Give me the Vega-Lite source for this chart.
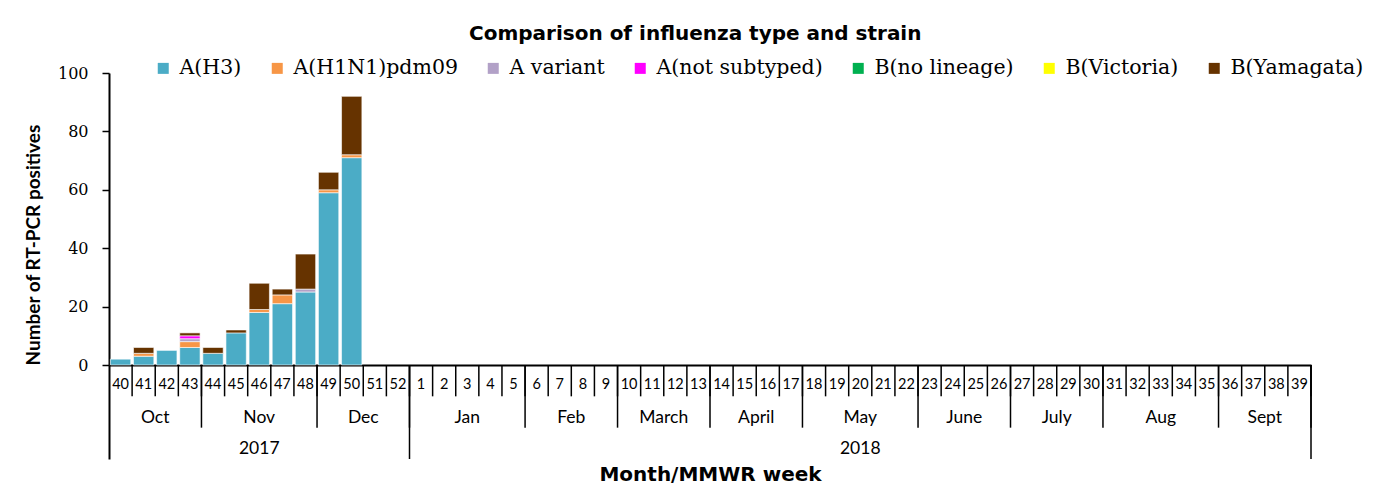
{
  "$schema": "https://vega.github.io/schema/vega-lite/v6.json",
  "padding": {"left": 24, "top": 24, "right": 5, "bottom": 5},
  "background": "white",
  "title": {"text": "Comparison of influenza type and strain", "font": "DejaVu Sans", "fontSize": 20, "fontWeight": "bold", "color": "black", "anchor": "middle", "offset": 14, "dx": 1},
  "spacing": 0,
  "bounds": "flush",
  "datasets": {
    "strains": [
      {"strain": "A(H3)", "rank": 1},
      {"strain": "A(H1N1)pdm09", "rank": 2},
      {"strain": "A variant", "rank": 3},
      {"strain": "A(not subtyped)", "rank": 4},
      {"strain": "B(no lineage)", "rank": 5},
      {"strain": "B(Victoria)", "rank": 6},
      {"strain": "B(Yamagata)", "rank": 7}
    ],
    "cases": [
      {"week": "40", "strain": "A(H3)", "count": 2},
      {"week": "41", "strain": "A(H3)", "count": 3},
      {"week": "41", "strain": "A(H1N1)pdm09", "count": 1},
      {"week": "41", "strain": "B(Yamagata)", "count": 2},
      {"week": "42", "strain": "A(H3)", "count": 5},
      {"week": "43", "strain": "A(H3)", "count": 6},
      {"week": "43", "strain": "A(H1N1)pdm09", "count": 2},
      {"week": "43", "strain": "A variant", "count": 1},
      {"week": "43", "strain": "A(not subtyped)", "count": 1},
      {"week": "43", "strain": "B(Yamagata)", "count": 1},
      {"week": "44", "strain": "A(H3)", "count": 4},
      {"week": "44", "strain": "B(Yamagata)", "count": 2},
      {"week": "45", "strain": "A(H3)", "count": 11},
      {"week": "45", "strain": "B(Yamagata)", "count": 1},
      {"week": "46", "strain": "A(H3)", "count": 18},
      {"week": "46", "strain": "A(H1N1)pdm09", "count": 1},
      {"week": "46", "strain": "B(Yamagata)", "count": 9},
      {"week": "47", "strain": "A(H3)", "count": 21},
      {"week": "47", "strain": "A(H1N1)pdm09", "count": 3},
      {"week": "47", "strain": "B(Yamagata)", "count": 2},
      {"week": "48", "strain": "A(H3)", "count": 25},
      {"week": "48", "strain": "A variant", "count": 1},
      {"week": "48", "strain": "B(Yamagata)", "count": 12},
      {"week": "49", "strain": "A(H3)", "count": 59},
      {"week": "49", "strain": "A(H1N1)pdm09", "count": 1},
      {"week": "49", "strain": "B(Yamagata)", "count": 6},
      {"week": "50", "strain": "A(H3)", "count": 71},
      {"week": "50", "strain": "A(H1N1)pdm09", "count": 1},
      {"week": "50", "strain": "B(Yamagata)", "count": 20}
    ],
    "calendar": [
      {"idx": 1, "week": "40", "month": "Oct", "year": "2017"},
      {"idx": 2, "week": "41", "month": "Oct", "year": "2017"},
      {"idx": 3, "week": "42", "month": "Oct", "year": "2017"},
      {"idx": 4, "week": "43", "month": "Oct", "year": "2017"},
      {"idx": 5, "week": "44", "month": "Nov", "year": "2017"},
      {"idx": 6, "week": "45", "month": "Nov", "year": "2017"},
      {"idx": 7, "week": "46", "month": "Nov", "year": "2017"},
      {"idx": 8, "week": "47", "month": "Nov", "year": "2017"},
      {"idx": 9, "week": "48", "month": "Nov", "year": "2017"},
      {"idx": 10, "week": "49", "month": "Dec", "year": "2017"},
      {"idx": 11, "week": "50", "month": "Dec", "year": "2017"},
      {"idx": 12, "week": "51", "month": "Dec", "year": "2017"},
      {"idx": 13, "week": "52", "month": "Dec", "year": "2017"},
      {"idx": 14, "week": "1", "month": "Jan", "year": "2018"},
      {"idx": 15, "week": "2", "month": "Jan", "year": "2018"},
      {"idx": 16, "week": "3", "month": "Jan", "year": "2018"},
      {"idx": 17, "week": "4", "month": "Jan", "year": "2018"},
      {"idx": 18, "week": "5", "month": "Jan", "year": "2018"},
      {"idx": 19, "week": "6", "month": "Feb", "year": "2018"},
      {"idx": 20, "week": "7", "month": "Feb", "year": "2018"},
      {"idx": 21, "week": "8", "month": "Feb", "year": "2018"},
      {"idx": 22, "week": "9", "month": "Feb", "year": "2018"},
      {"idx": 23, "week": "10", "month": "March", "year": "2018"},
      {"idx": 24, "week": "11", "month": "March", "year": "2018"},
      {"idx": 25, "week": "12", "month": "March", "year": "2018"},
      {"idx": 26, "week": "13", "month": "March", "year": "2018"},
      {"idx": 27, "week": "14", "month": "April", "year": "2018"},
      {"idx": 28, "week": "15", "month": "April", "year": "2018"},
      {"idx": 29, "week": "16", "month": "April", "year": "2018"},
      {"idx": 30, "week": "17", "month": "April", "year": "2018"},
      {"idx": 31, "week": "18", "month": "May", "year": "2018"},
      {"idx": 32, "week": "19", "month": "May", "year": "2018"},
      {"idx": 33, "week": "20", "month": "May", "year": "2018"},
      {"idx": 34, "week": "21", "month": "May", "year": "2018"},
      {"idx": 35, "week": "22", "month": "May", "year": "2018"},
      {"idx": 36, "week": "23", "month": "June", "year": "2018"},
      {"idx": 37, "week": "24", "month": "June", "year": "2018"},
      {"idx": 38, "week": "25", "month": "June", "year": "2018"},
      {"idx": 39, "week": "26", "month": "June", "year": "2018"},
      {"idx": 40, "week": "27", "month": "July", "year": "2018"},
      {"idx": 41, "week": "28", "month": "July", "year": "2018"},
      {"idx": 42, "week": "29", "month": "July", "year": "2018"},
      {"idx": 43, "week": "30", "month": "July", "year": "2018"},
      {"idx": 44, "week": "31", "month": "Aug", "year": "2018"},
      {"idx": 45, "week": "32", "month": "Aug", "year": "2018"},
      {"idx": 46, "week": "33", "month": "Aug", "year": "2018"},
      {"idx": 47, "week": "34", "month": "Aug", "year": "2018"},
      {"idx": 48, "week": "35", "month": "Aug", "year": "2018"},
      {"idx": 49, "week": "36", "month": "Sept", "year": "2018"},
      {"idx": 50, "week": "37", "month": "Sept", "year": "2018"},
      {"idx": 51, "week": "38", "month": "Sept", "year": "2018"},
      {"idx": 52, "week": "39", "month": "Sept", "year": "2018"}
    ]
  },
  "vconcat": [
    {
      "width": 1202,
      "height": 292,
      "data": {"name": "cases"},
      "transform": [
        {"lookup": "strain", "from": {"data": {"name": "strains"}, "key": "strain", "fields": ["rank"]}}
      ],
      "mark": {"type": "bar", "stroke": "white", "strokeWidth": 0.6},
      "encoding": {
        "x": {
          "field": "week", "type": "ordinal",
          "scale": {"domain": ["40","41","42","43","44","45","46","47","48","49","50","51","52","1","2","3","4","5","6","7","8","9","10","11","12","13","14","15","16","17","18","19","20","21","22","23","24","25","26","27","28","29","30","31","32","33","34","35","36","37","38","39"], "paddingInner": 0.12, "paddingOuter": 0.06},
          "axis": {"title": null, "labels": false, "ticks": false, "domain": true, "domainColor": "black", "domainWidth": 2, "grid": false}
        },
        "y": {
          "field": "count", "type": "quantitative",
          "scale": {"domain": [0, 100], "nice": false},
          "axis": {"title": "Number of RT-PCR positives", "titleFont": "Lato", "titleFontSize": 19, "titleFontWeight": "bold", "titleColor": "black", "titlePadding": 14, "titleAnchor": "start", "values": [0, 20, 40, 60, 80, 100], "labelFont": "DejaVu Serif", "labelFontSize": 16, "labelColor": "black", "labelPadding": 14, "tickSize": 7, "tickColor": "black", "tickWidth": 1.5, "domainColor": "black", "domainWidth": 2, "grid": false}
        },
        "order": {"field": "rank", "type": "quantitative", "sort": "ascending"},
        "color": {
          "field": "strain", "type": "nominal",
          "sort": ["A(H3)", "A(H1N1)pdm09", "A variant", "A(not subtyped)", "B(no lineage)", "B(Victoria)", "B(Yamagata)"],
          "scale": {"domain": ["A(H3)", "A(H1N1)pdm09", "A variant", "A(not subtyped)", "B(no lineage)", "B(Victoria)", "B(Yamagata)"], "range": ["#4BACC6", "#F79646", "#B2A1C7", "#FF00FF", "#00B050", "#FFFF00", "#663300"]},
          "legend": {"orient": "none", "legendX": 44, "legendY": -15, "direction": "horizontal", "columns": 7, "title": null, "symbolType": "square", "symbolSize": 121, "symbolStrokeWidth": 0, "labelFont": "DejaVu Serif", "labelFontSize": 20.5, "labelColor": "black", "columnPadding": 25, "labelOffset": 6, "labelLimit": 300}
        }
      }
    },
    {
      "width": 1202,
      "height": 94,
      "data": {"name": "calendar"},
      "layer": [
        {
          "mark": {"type": "rule", "color": "black", "strokeWidth": 1.5},
          "encoding": {
            "x": {"field": "idx", "type": "quantitative", "scale": {"domain": [0, 52], "nice": false}, "axis": {"title": "Month/MMWR week", "titleFont": "DejaVu Sans", "titleFontSize": 20, "titleFontWeight": "bold", "titleColor": "black", "titlePadding": 5, "labels": false, "ticks": false, "domain": false, "grid": false}},
            "y": {"datum": 0, "type": "quantitative", "scale": {"domain": [0, 3], "reverse": true, "nice": false}, "axis": {"title": null, "labels": false, "ticks": false, "domain": true, "domainColor": "black", "domainWidth": 2, "grid": false}},
            "y2": {"datum": 1}
          }
        },
        {
          "mark": {"type": "text", "dx": -11.56, "dy": 4, "font": "Lato", "fontSize": 14.5, "color": "black"},
          "encoding": {
            "x": {"field": "idx", "type": "quantitative"},
            "y": {"datum": 0.5, "type": "quantitative"},
            "text": {"field": "week"}
          }
        },
        {
          "mark": {"type": "rule", "color": "black", "strokeWidth": 1.5},
          "encoding": {
            "x": {"field": "idx", "aggregate": "max", "type": "quantitative"},
            "detail": {"field": "month"},
            "y": {"datum": 0, "type": "quantitative"},
            "y2": {"datum": 2}
          }
        },
        {
          "mark": {"type": "text", "dx": -11.56, "dy": 6, "font": "Lato", "fontSize": 17.5, "color": "black"},
          "encoding": {
            "x": {"field": "idx", "aggregate": "mean", "type": "quantitative"},
            "y": {"datum": 1.5, "type": "quantitative"},
            "text": {"field": "month"}
          }
        },
        {
          "mark": {"type": "rule", "color": "black", "strokeWidth": 1.5},
          "encoding": {
            "x": {"field": "idx", "aggregate": "max", "type": "quantitative"},
            "detail": {"field": "year"},
            "y": {"datum": 0, "type": "quantitative"},
            "y2": {"datum": 3}
          }
        },
        {
          "mark": {"type": "text", "dx": -11.56, "dy": 6, "font": "Lato", "fontSize": 17.5, "color": "black"},
          "encoding": {
            "x": {"field": "idx", "aggregate": "mean", "type": "quantitative"},
            "y": {"datum": 2.5, "type": "quantitative"},
            "text": {"field": "year"}
          }
        }
      ]
    }
  ],
  "config": {"view": {"stroke": null}}
}
